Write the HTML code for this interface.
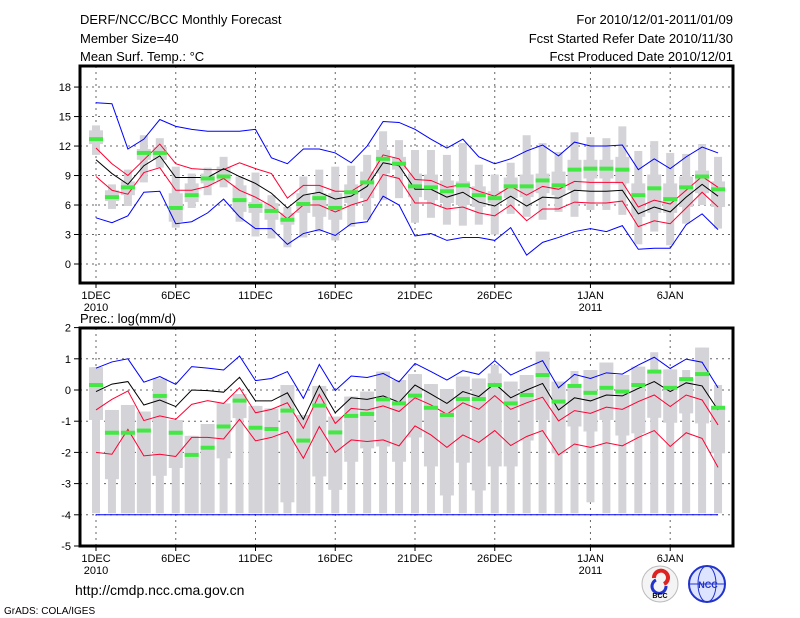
<!DOCTYPE html>
<html><head><meta charset="utf-8"><style>
body{margin:0;background:#fff;width:800px;height:618px;overflow:hidden}
svg{display:block}
text{font-family:"Liberation Sans",sans-serif;fill:#000}
</style></head><body>
<svg id="c" width="800" height="618" xmlns="http://www.w3.org/2000/svg">
<g font-size="13">
<text x="80" y="24">DERF/NCC/BCC Monthly Forecast</text>
<text x="80" y="43">Member Size=40</text>
<text x="80" y="61">Mean Surf. Temp.: °C</text>
<text x="733" y="24" text-anchor="end">For 2010/12/01-2011/01/09</text>
<text x="733" y="43" text-anchor="end">Fcst Started Refer Date 2010/11/30</text>
<text x="733" y="61" text-anchor="end">Fcst Produced Date 2010/12/01</text>
</g>
<text x="80" y="323" font-size="13">Prec.: log(mm/d)</text>
<text x="75" y="595" font-size="14">http://cmdp.ncc.cma.gov.cn</text>
<text x="4" y="614" font-size="10">GrADS: COLA/IGES</text>
<g>
<circle cx="660" cy="584" r="18" fill="#f4f4f4" stroke="#bbb"/>
<path d="M654 578a7 7 0 1 1 10 6" fill="none" stroke="#d22" stroke-width="4"/>
<path d="M666 586a7 7 0 1 1 -10 -6" fill="none" stroke="#23c" stroke-width="3"/>
<text x="660" y="598" font-size="7" text-anchor="middle" font-weight="bold">BCC</text>
</g>
<g>
<circle cx="707" cy="584" r="18" fill="#dde4ff" stroke="#23c" stroke-width="2"/>
<ellipse cx="707" cy="584" rx="9" ry="18" fill="none" stroke="#23c"/>
<line x1="689" y1="584" x2="725" y2="584" stroke="#23c"/>
<text x="708" y="588" font-size="9" text-anchor="middle" font-weight="bold" style="fill:#23c">NCC</text>
</g>
<g id="plots"></g>
</svg>
<script>
const days=40;
const xTickIdx=[0,5,10,15,20,25,31,36];
const xTickLab=["1DEC","6DEC","11DEC","16DEC","21DEC","26DEC","1JAN","6JAN"];
const xTickYear=["2010","","","","","","2011",""];
const tTicks=[0,3,6,9,12,15,18];
const pTicks=[2,1,0,-1,-2,-3,-4,-5];
// Temperature
const tBlueHi=[16.4,16.3,11.7,12.7,14.7,14.0,13.7,13.5,13.5,13.5,13.7,10.8,10.2,11.7,11.7,11.3,10.3,12.0,14.5,14.4,13.7,12.7,11.8,12.7,10.9,10.2,10.7,11.5,12.1,11.0,12.4,12.0,12.0,12.1,9.6,10.7,9.7,10.9,11.9,11.3];
const tBlueLo=[4.7,4.2,4.9,7.3,7.4,4.1,4.3,5.2,6.6,4.8,3.6,3.6,2.0,3.1,3.5,2.9,4.1,4.3,6.9,6.0,2.85,3.1,2.4,2.7,2.7,2.4,3.7,0.9,2.2,2.7,3.3,3.6,3.3,3.9,1.5,1.6,1.6,4.0,5.1,3.5];
const tRedHi=[11.8,10.2,9.0,10.6,12.2,10.2,9.7,9.6,9.6,10.3,9.7,9.2,6.7,8.0,8.0,7.4,7.4,8.4,11.1,10.7,8.6,8.5,7.8,8.1,7.4,6.9,7.9,7.0,7.9,7.6,8.4,8.3,8.3,8.3,5.8,6.5,6.1,7.5,8.9,7.8];
const tMean=[10.6,9.2,8.1,10.0,11.0,8.8,8.8,8.8,9.7,8.9,8.2,7.2,5.7,7.0,7.3,6.6,6.9,7.9,10.3,10.0,7.6,7.6,6.8,7.3,6.3,5.9,6.9,5.9,6.8,6.7,7.5,7.4,7.4,7.5,5.1,5.8,5.3,6.8,8.1,6.9];
const tRedLo=[8.9,7.5,7.1,9.3,9.8,7.5,7.5,7.9,8.7,7.5,6.8,5.9,4.6,6.0,6.0,5.3,6.0,6.5,9.1,8.7,6.2,6.2,5.6,5.8,5.2,4.9,6.0,4.4,5.6,5.6,6.3,6.2,6.2,6.4,3.8,4.4,4.1,5.7,7.3,5.8];
const tGreen=[12.7,6.8,7.8,11.3,11.3,5.7,7.0,8.7,8.9,6.5,5.9,5.4,4.5,6.1,6.7,5.7,7.3,8.3,10.7,10.2,7.9,7.8,7.4,8.0,7.0,6.7,7.9,7.9,8.5,8.0,9.6,9.7,9.7,9.6,7.0,7.7,6.6,7.8,8.9,7.6];
const tWMax=[14.1,8.1,9.6,13.1,12.8,9.9,9.2,9.8,10.9,8.9,9.3,7.0,5.8,8.9,9.6,9.9,10.0,11.1,13.5,12.6,11.6,11.6,11.1,12.3,10.1,9.1,10.3,13.1,12.3,11.4,13.4,12.9,12.8,14.0,11.5,12.5,11.3,11.2,12.2,10.9];
const tWMin=[11.1,5.6,5.9,8.3,9.8,3.7,5.7,7.0,7.8,4.3,2.8,2.6,1.7,2.7,3.3,2.4,3.8,4.5,6.5,6.7,4.2,4.7,4.0,3.9,4.0,3.0,5.1,4.8,4.5,5.3,4.8,5.5,5.5,5.0,2.0,3.3,1.9,4.1,6.0,3.6];
const tQ3=[13.6,7.5,8.4,11.7,11.9,7.2,8.2,9.2,9.9,8.0,6.3,6.2,5.2,7.2,7.2,7.2,8.1,9.4,11.6,10.9,9.2,9.1,8.5,8.4,7.9,7.4,8.8,9.1,9.2,9.4,10.6,10.6,10.6,10.9,8.2,9.1,8.2,8.9,9.5,8.4];
const tQ1=[12.2,6.4,7.0,10.6,10.6,4.3,6.3,8.2,8.4,5.3,5.2,4.5,4.0,5.2,4.8,4.5,6.2,6.7,9.2,9.6,6.8,6.5,6.2,6.0,5.8,6.2,6.7,6.8,7.2,7.0,7.5,8.7,8.7,8.2,4.8,5.2,5.2,5.8,7.2,5.8];
// Precipitation
const pBlueHi=[0.7,0.9,1.0,0.25,0.43,0.18,0.75,0.7,0.64,1.09,0.3,0.37,0.59,-0.27,0.82,-0.02,0.45,0.4,0.53,0.26,0.85,0.59,0.32,0.62,0.5,0.94,0.48,0.72,0.94,0.07,0.5,0.37,0.55,0.51,0.8,1.05,0.69,0.99,0.89,0.07];
const pMean=[-0.05,0.19,0.27,-0.48,-0.32,-0.53,0.0,-0.02,-0.07,0.41,-0.35,-0.35,-0.09,-0.94,0.14,-0.73,-0.25,-0.3,-0.19,-0.39,0.16,-0.13,-0.43,-0.05,-0.21,0.21,-0.25,0.0,0.21,-0.64,-0.25,-0.35,-0.16,-0.19,0.05,0.27,-0.05,0.23,0.13,-0.64];
const pRedHi=[-0.64,-0.3,-0.03,-0.98,-0.83,-0.94,-0.46,-0.34,-0.43,0.07,-0.73,-0.62,-0.41,-1.23,-0.14,-1.07,-0.59,-0.64,-0.51,-0.69,-0.25,-0.48,-0.78,-0.41,-0.62,-0.18,-0.62,-0.41,-0.23,-0.99,-0.66,-0.75,-0.55,-0.62,-0.37,-0.16,-0.53,-0.16,-0.32,-1.12];
const pRedLo=[-2.0,-2.06,-1.26,-2.11,-2.06,-2.13,-1.52,-1.52,-1.57,-0.94,-1.63,-1.52,-1.33,-2.19,-1.17,-2.0,-1.6,-1.65,-1.6,-1.79,-1.15,-1.44,-1.84,-1.44,-1.68,-1.3,-1.78,-1.49,-1.3,-2.08,-1.73,-1.84,-1.69,-1.79,-1.52,-1.3,-1.81,-1.37,-1.55,-2.48];
const pBlueLo=[-4,-4,-4,-4,-4,-4,-4,-4,-4,-4,-4,-4,-4,-4,-4,-4,-4,-4,-4,-4,-4,-4,-4,-4,-4,-4,-4,-4,-4,-4,-4,-4,-4,-4,-4,-4,-4,-4,-4,-4];
const pGreen=[0.16,-1.37,-1.37,-1.3,-0.19,-1.37,-2.08,-1.85,-1.17,-0.34,-1.21,-1.25,-0.66,-1.62,-0.5,-1.36,-0.83,-0.77,-0.3,-0.43,-0.18,-0.57,-0.8,-0.29,-0.29,0.16,-0.43,-0.16,0.48,-0.37,0.13,-0.09,0.07,-0.05,0.16,0.59,0.07,0.35,0.51,-0.57];
const pWMax=[0.73,-0.64,-0.48,-0.69,0.37,-0.96,-1.47,-1.09,-0.43,-0.13,-0.51,-0.59,0.16,-0.8,0.13,-0.85,-0.21,-0.05,0.59,0.32,0.51,0.19,0.03,0.43,0.37,0.8,0.27,0.48,1.23,0.27,0.61,0.64,0.88,0.48,0.75,1.21,0.66,0.64,1.36,0.16];
const pQ3=[0.73,-0.64,-0.48,-0.69,0.37,-0.96,-1.47,-1.09,-0.43,-0.13,-0.51,-0.59,0.16,-0.8,0.13,-0.85,-0.21,-0.05,0.59,0.32,0.51,0.19,0.03,0.43,0.37,0.53,0.27,0.48,1.23,0.27,0.11,0.64,0.88,0.48,0.75,0.59,0.66,0.37,1.36,-0.59];
const pQ1=[-0.96,-2.86,-3.95,-3.95,-2.75,-2.5,-3.95,-3.95,-2.19,-0.9,-3.95,-3.95,-3.6,-3.95,-2.77,-3.2,-2.3,-1.87,-1.81,-2.3,-1.52,-2.45,-3.38,-2.33,-3.22,-2.45,-2.45,-1.62,-0.96,-2.03,-1.17,-1.33,-0.96,-1.46,-1.39,-0.89,-1.05,-0.75,-1.07,-2.03];
const pWMin=[-3.95,-3.95,-3.95,-3.95,-3.95,-3.95,-3.95,-3.95,-3.95,-3.95,-3.95,-3.95,-3.95,-3.95,-3.95,-3.95,-3.95,-3.95,-3.95,-3.95,-3.95,-3.95,-3.95,-3.95,-3.95,-3.95,-3.95,-3.95,-3.95,-3.95,-3.95,-3.6,-3.95,-3.95,-3.95,-3.95,-3.95,-3.95,-3.95,-3.95];

const NS='http://www.w3.org/2000/svg';
const root=document.getElementById('plots');
const X=i=>96+15.95*i;
const L=80,R=733;
function mk(tag,attrs,parent){const e=document.createElementNS(NS,tag);for(const k in attrs)e.setAttribute(k,attrs[k]);(parent||root).appendChild(e);return e;}
function panel(name,top,bot,yf,ticks,wmax,wmin,q3,q1,green,lines,yearLab){
  const g=mk('g',{});
  
  
  ticks.forEach(v=>{const y=yf(v);if(y>top+2&&y<bot-2){const l=mk('line',{x1:L,x2:R,y1:y,y2:y,stroke:'#666','stroke-dasharray':'2,4','stroke-width':1},g);}});
  xTickIdx.forEach(i=>{const l=mk('line',{x1:X(i),x2:X(i),y1:top,y2:bot,stroke:'#666','stroke-dasharray':'2,4','stroke-width':1},g);});
  for(let i=0;i<days;i++){
    const w=mk('rect',{x:X(i)-4,y:yf(wmax[i]),width:8,height:Math.max(1,yf(wmin[i])-yf(wmax[i])),fill:'#d4d4d8'},g);
    
    
    const b=mk('rect',{x:X(i)-7,y:yf(q3[i]),width:14,height:Math.max(1,yf(q1[i])-yf(q3[i])),fill:'#d4d4d8'},g);
    
    
  }
  lines.forEach(([arr,col,nm])=>{
    const p=mk('polyline',{points:arr.map((v,i)=>X(i)+','+yf(v)).join(' '),fill:'none',stroke:col,'stroke-width':1},g);
    
    
  });
  for(let i=0;i<days;i++){
    const m=mk('rect',{x:X(i)-7,y:yf(green[i])-2,width:14,height:4,fill:'#44e844'},g);
    
    
  }
  const f=mk('rect',{x:L,y:top,width:R-L,height:bot-top,fill:'none',stroke:'#000','stroke-width':3},g);
  
  
  ticks.forEach(v=>{const y=yf(v);
    const t=mk('line',{x1:L-6,x2:L,y1:y,y2:y,stroke:'#000'},g);
    
    const tx=mk('text',{x:L-9,y:y+4,'text-anchor':'end','font-size':'11'},g);tx.textContent=v;
    });
  xTickIdx.forEach((i,k)=>{
    const t=mk('line',{x1:X(i),x2:X(i),y1:bot,y2:bot+5,stroke:'#000'},g);
    
    const tx=mk('text',{x:X(i),y:bot+16,'text-anchor':'middle','font-size':'11'},g);tx.textContent=xTickLab[k];
    
    if(yearLab&&xTickYear[k]){const ty=mk('text',{x:X(i),y:bot+28,'text-anchor':'middle','font-size':'11'},g);ty.textContent=xTickYear[k];
    }
  });
}
const yT=v=>264-v*9.83;
const yB=v=>390-v*31.2;
panel('temperature-panel',66,283,yT,tTicks,tWMax,tWMin,tQ3,tQ1,tGreen,
 [[tBlueHi,'#0000ff','temp-max-line'],[tBlueLo,'#0000ff','temp-min-line'],[tRedHi,'#ff0033','temp-upper-line'],[tRedLo,'#ff0033','temp-lower-line'],[tMean,'#000','temp-mean-line']],true);
panel('precip-panel',328,546,yB,pTicks,pWMax,pWMin,pQ3,pQ1,pGreen,
 [[pBlueHi,'#0000ff','precip-max-line'],[pBlueLo,'#0000ff','precip-min-line'],[pRedHi,'#ff0033','precip-upper-line'],[pRedLo,'#ff0033','precip-lower-line'],[pMean,'#000','precip-mean-line']],true);
</script>
</body></html>
